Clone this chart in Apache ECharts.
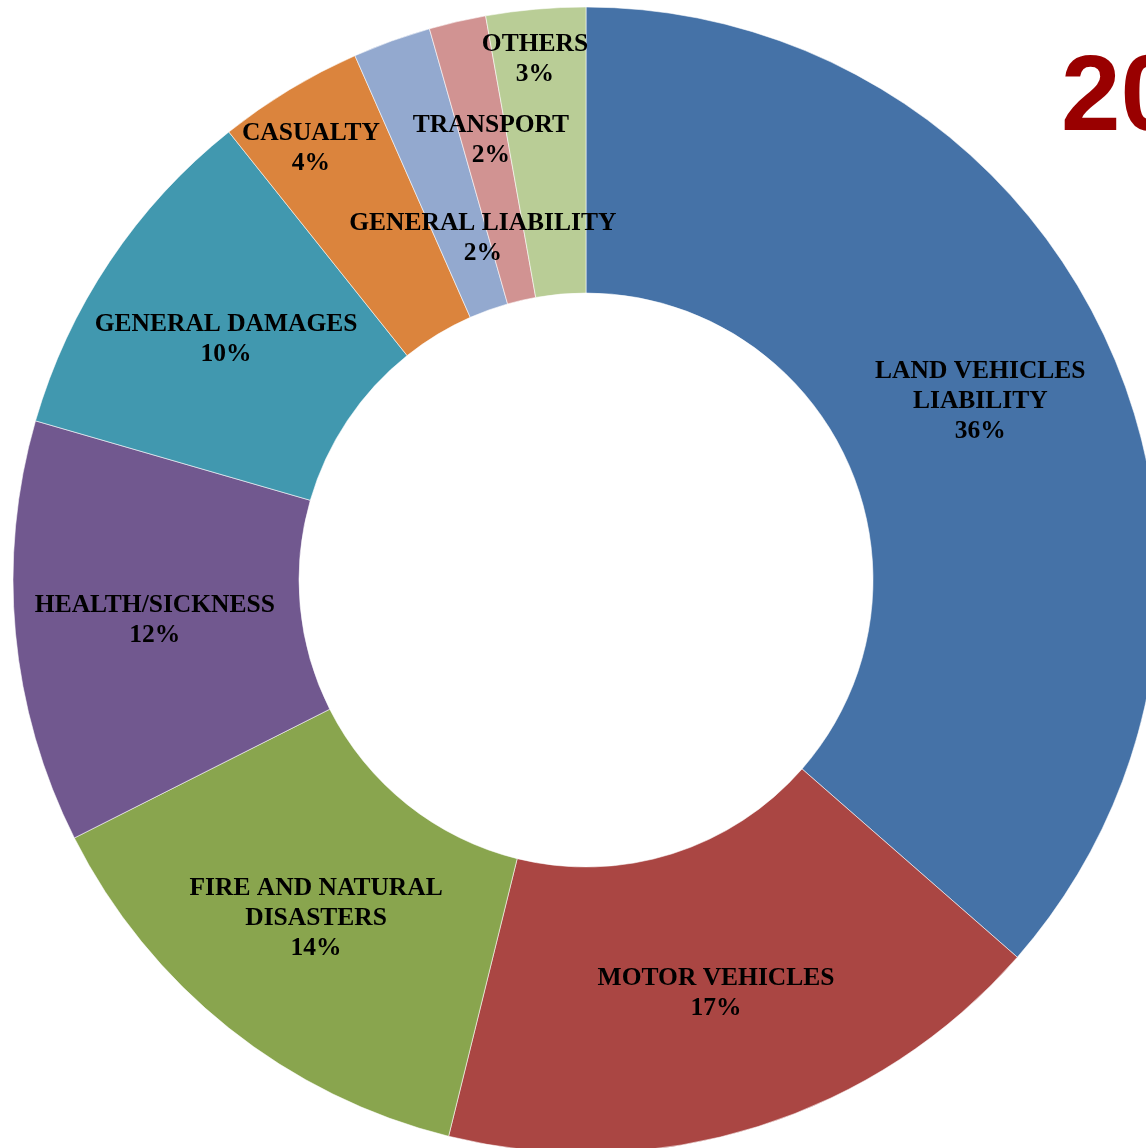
<!DOCTYPE html>
<html>
<head>
<meta charset="utf-8">
<script src="https://cdn.jsdelivr.net/npm/echarts@6/dist/echarts.min.js"></script>
<style>
html,body{margin:0;padding:0;background:#fff;}
#chart{width:1146px;height:1148px;}
</style>
</head>
<body>
<div id="chart"></div>
<script>
// Categories (clockwise from 12 o'clock) and shares (% of total)
const categories = [
  'LAND VEHICLES\nLIABILITY',
  'MOTOR VEHICLES',
  'FIRE AND NATURAL\nDISASTERS',
  'HEALTH/SICKNESS',
  'GENERAL DAMAGES',
  'CASUALTY',
  'GENERAL LIABILITY',
  'TRANSPORT',
  'OTHERS'
];
const shares = [36.4, 17.4, 13.7, 11.9, 9.8, 4.1, 2.2, 1.6, 2.8];
const titleText = '20';

const colors = ['#4572A7', '#AA4643', '#89A54E', '#71588F', '#4198AF', '#DB843D', '#93A9CF', '#D19392', '#B9CD96'];

const CX = 586, CY = 580;
// moved label placements for small slices: [angle deg clockwise from top, radius px]
const labelPlacement = {
  5: [327.5, 512],
  6: [343.2, 357],
  7: [347.8, 450],
  8: [354.4, 523]
};

const chart = echarts.init(document.getElementById('chart'), null, {renderer: 'canvas'});
chart.setOption({
  animation: false,
  color: colors,
  graphic: [{
    type: 'text',
    style: {
      text: titleText,
      x: 1061,
      y: 100,
      fill: '#990000',
      font: 'bold 107px "Liberation Sans", Arial, sans-serif',
      verticalAlign: 'middle',
      align: 'left'
    }
  }],
  series: [{
    type: 'pie',
    center: [CX, CY],
    radius: [287, 573],
    startAngle: 90,
    clockwise: true,
    avoidLabelOverlap: false,
    itemStyle: {borderColor: 'rgba(255,255,255,0.7)', borderWidth: 0.8},
    label: {
      show: true,
      position: 'inside',
      color: '#000',
      fontFamily: '"Liberation Serif", "Times New Roman", serif',
      fontWeight: 'bold',
      fontSize: 25.5,
      lineHeight: 30,
      align: 'center',
      formatter: p => p.name + '\n' + Math.round(p.percent) + '%'
    },
    labelLine: {show: false},
    labelLayout: function (params) {
      const pl = labelPlacement[params.dataIndex];
      if (!pl) return {};
      const a = pl[0] * Math.PI / 180;
      return {
        x: CX + pl[1] * Math.sin(a),
        y: CY - pl[1] * Math.cos(a),
        align: 'center',
        verticalAlign: 'middle'
      };
    },
    emphasis: {disabled: true},
    data: categories.map((c, i) => ({name: c, value: shares[i]}))
  }]
});
</script>
</body>
</html>
